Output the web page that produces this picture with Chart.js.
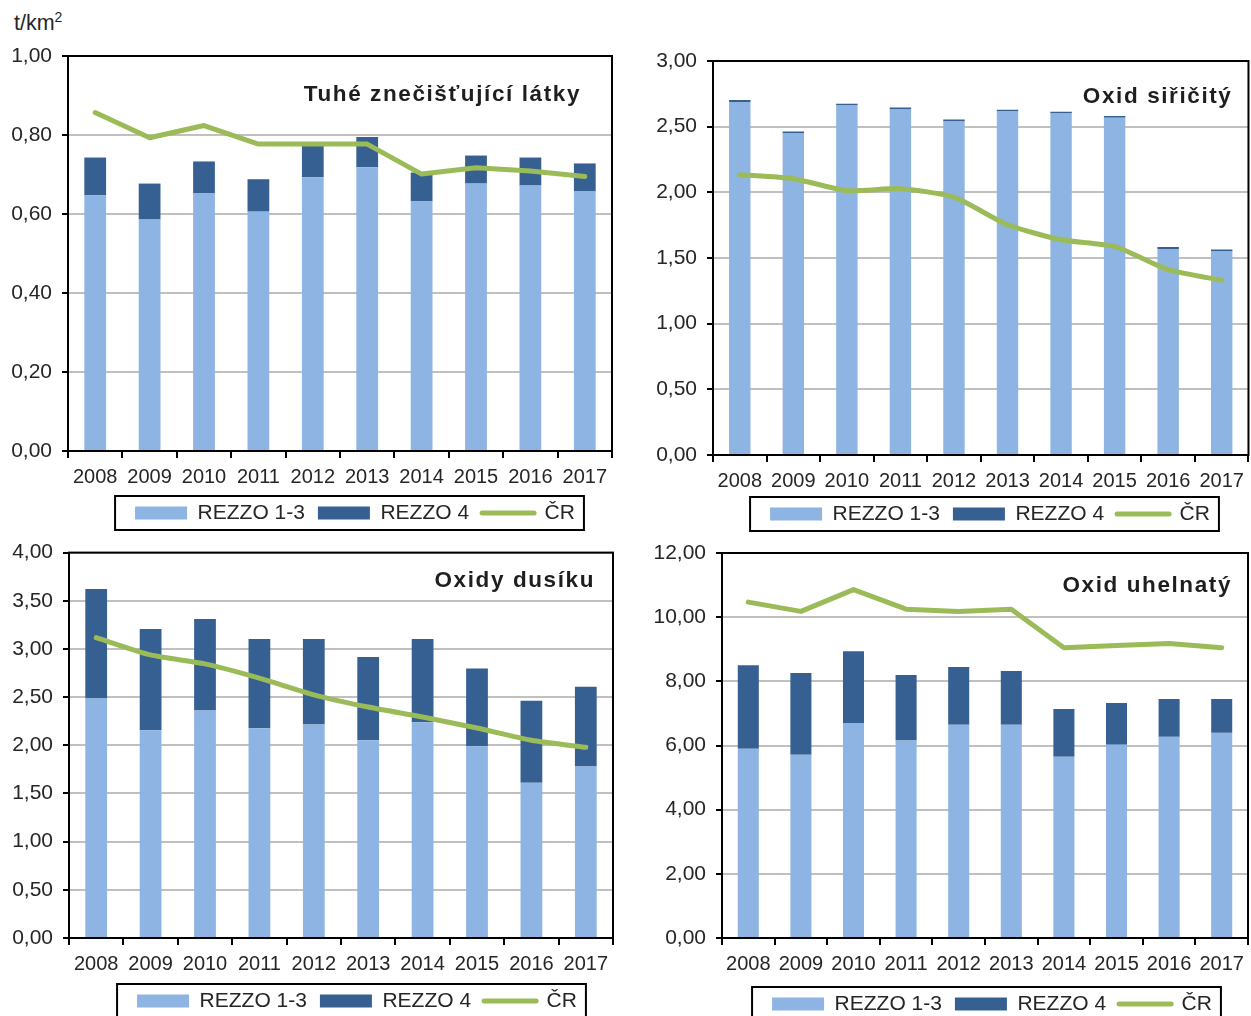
<!DOCTYPE html>
<html lang="cs">
<head>
<meta charset="utf-8">
<script src="https://cdn.jsdelivr.net/npm/chart.js@4.4.0/dist/chart.umd.min.js"></script>
<style>
  html, body { margin: 0; padding: 0; background: #fff; overflow: hidden; }
  #page { position: relative; width: 1251px; height: 1016px; overflow: hidden; font-family: "Liberation Sans", Arial, sans-serif; color: #262626; }
  .box { position: absolute; }
  #unit { position: absolute; left: 14px; top: 13px; font-size: 21.5px; line-height: 21px; }
  #unit sup { font-size: 14px; line-height: 0; }
</style>
</head>
<body>
<div id="page">
  <div id="unit">t/km<sup>2</sup></div>
  <div class="box" style="left:0;top:30px;width:640px;height:505px"><canvas id="c1"></canvas></div>
  <div class="box" style="left:640px;top:30px;width:611px;height:509px"><canvas id="c2"></canvas></div>
  <div class="box" style="left:0;top:530px;width:640px;height:486px"><canvas id="c3"></canvas></div>
  <div class="box" style="left:640px;top:530px;width:611px;height:486px"><canvas id="c4"></canvas></div>
</div>
<script>
const years = ['2008', '2009', '2010', '2011', '2012', '2013', '2014', '2015', '2016', '2017'];
const seriesNames = ['REZZO 1-3', 'REZZO 4', 'ČR'];

// Tuhé znečišťující látky
const tzlRezzo13 = [0.647, 0.586, 0.652, 0.606, 0.693, 0.718, 0.632, 0.677, 0.672, 0.657];
const tzlRezzo4 = [0.096, 0.091, 0.081, 0.082, 0.083, 0.077, 0.073, 0.071, 0.071, 0.071];
const tzlCR = [0.857, 0.793, 0.824, 0.777, 0.777, 0.777, 0.701, 0.717, 0.709, 0.695];

// Oxid siřičitý
const so2Rezzo13 = [2.688, 2.448, 2.661, 2.630, 2.539, 2.615, 2.600, 2.567, 1.568, 1.550];
const so2Rezzo4 = [0.015, 0.015, 0.014, 0.015, 0.015, 0.014, 0.014, 0.015, 0.015, 0.014];
const so2CR = [2.134, 2.104, 2.013, 2.028, 1.963, 1.753, 1.639, 1.588, 1.411, 1.330];

// Oxidy dusíku
const noxRezzo13 = [2.486, 2.155, 2.362, 2.176, 2.217, 2.052, 2.238, 1.990, 1.611, 1.781];
const noxRezzo4 = [1.135, 1.052, 0.948, 0.927, 0.886, 0.865, 0.865, 0.807, 0.851, 0.826];
const noxCR = [3.117, 2.938, 2.845, 2.697, 2.524, 2.397, 2.293, 2.179, 2.052, 1.979];

// Oxid uhelnatý
const coRezzo13 = [5.898, 5.711, 6.705, 6.156, 6.643, 6.643, 5.649, 6.022, 6.270, 6.394];
const coRezzo4 = [2.607, 2.546, 2.235, 2.039, 1.800, 1.676, 1.490, 1.303, 1.180, 1.056];
const coCR = [10.47, 10.18, 10.86, 10.25, 10.18, 10.25, 9.05, 9.12, 9.18, 9.05];

const LIGHT = '#8db4e2', DARK = '#366092', GREEN = '#9bbb59', TEXT = '#262626';
const FONT = '"Liberation Sans", Arial, sans-serif';

// frame around the plot, title inside it, boxed legend moved to its place
const panelPlugin = {
  id: 'panel',
  afterLayout(chart, args, opts) {
    const lg = chart.legend;
    if (!lg || !lg.legendHitBoxes || !lg.legendHitBoxes.length) return;
    const dx = opts.legendX - (lg.left + lg.right) / 2;
    const itemH = lg.legendHitBoxes[0].height;
    const dy = opts.legendY - (lg.top + lg.options.labels.padding + itemH / 2);
    lg.left += dx; lg.right += dx;
    lg.top += dy; lg.bottom += dy;
  },
  afterDatasetsDraw(chart, args, opts) {
    const {ctx, chartArea: a} = chart;
    ctx.save();
    ctx.strokeStyle = '#000';
    ctx.lineWidth = 2;
    ctx.strokeRect(a.left, a.top, a.right - a.left, a.bottom - a.top);
    ctx.fillStyle = '#1e1e1e';
    ctx.font = 'bold 22.5px ' + FONT;
    ctx.letterSpacing = '1.6px';
    ctx.textAlign = 'right';
    ctx.textBaseline = 'alphabetic';
    ctx.fillText(opts.title, a.right - opts.titleInset, a.top + opts.titleBase);
    ctx.restore();
  },
  afterDraw(chart) {
    const hb = chart.legend && chart.legend.legendHitBoxes;
    if (!hb || !hb.length) return;
    const {ctx} = chart;
    const left = Math.min(...hb.map(h => h.left)) - 20;
    const right = Math.max(...hb.map(h => h.left + h.width)) + 9;
    const cy = hb[0].top + hb[0].height / 2;
    ctx.save();
    ctx.strokeStyle = '#000';
    ctx.lineWidth = 2;
    ctx.strokeRect(left, cy - 17, right - left, 34);
    ctx.restore();
  }
};

function makeChart(id, p) {
  const fmt = v => v.toFixed(2).replace('.', ',');
  return new Chart(document.getElementById(id), {
    data: {
      labels: years,
      datasets: [
        { type: 'bar', label: seriesNames[0], data: p.r13, backgroundColor: LIGHT, borderWidth: 0,
          barPercentage: 0.4, categoryPercentage: 1, stack: 'rezzo', order: 1 },
        { type: 'bar', label: seriesNames[1], data: p.r4, backgroundColor: DARK, borderWidth: 0,
          barPercentage: 0.4, categoryPercentage: 1, stack: 'rezzo', order: 1 },
        { type: 'line', label: seriesNames[2], data: p.cr, borderColor: GREEN, backgroundColor: GREEN,
          borderWidth: 5, borderCapStyle: 'round', borderJoinStyle: 'round', pointRadius: 0,
          tension: p.tension, stack: 'cr', order: 0 }
      ]
    },
    options: {
      responsive: true,
      maintainAspectRatio: false,
      animation: false,
      events: [],
      layout: { padding: { top: p.padTop, right: p.padRight, left: 0, bottom: p.padBottom } },
      scales: {
        x: {
          stacked: true,
          grid: { offset: true, drawOnChartArea: false, drawTicks: true, tickLength: 7, color: '#000', lineWidth: 2 },
          border: { color: '#000', width: 2 },
          ticks: { color: TEXT, font: { family: FONT, size: 20 }, padding: 7, maxRotation: 0, autoSkip: false },
          afterFit: s => { s.height = 34; }
        },
        y: {
          stacked: true,
          min: 0,
          max: p.max,
          grid: { color: '#c0c0c0', lineWidth: 2, tickColor: '#000', tickLength: 6, tickWidth: 2 },
          border: { color: '#000', width: 2 },
          ticks: { stepSize: p.step, color: TEXT, font: { family: FONT, size: 21 }, padding: 10, callback: fmt },
          afterFit: s => { s.width = p.yWidth; }
        }
      },
      plugins: {
        tooltip: { enabled: false },
        legend: {
          position: 'bottom',
          labels: {
            color: TEXT,
            font: { family: FONT, size: 21 },
            usePointStyle: true,
            pointStyleWidth: 52,
            boxHeight: 13,
            padding: 13,
            generateLabels: chart => chart.data.datasets.map((ds, i) => ({
              text: ds.label,
              datasetIndex: i,
              fillStyle: ds.type === 'line' ? 'rgba(0,0,0,0)' : ds.backgroundColor,
              strokeStyle: ds.type === 'line' ? ds.borderColor : ds.backgroundColor,
              lineWidth: ds.type === 'line' ? 5 : 0,
              lineCap: 'round',
              pointStyle: ds.type === 'line' ? 'line' : 'rect',
              fontColor: TEXT,
              hidden: false
            }))
          }
        },
        panel: { title: p.title, titleInset: p.titleInset, titleBase: p.titleBase, legendX: p.legendX, legendY: p.legendY }
      }
    },
    plugins: [panelPlugin]
  });
}

makeChart('c1', { title: 'Tuhé znečišťující látky', r13: tzlRezzo13, r4: tzlRezzo4, cr: tzlCR, max: 1, step: 0.2, tension: 0,
  padTop: 26, padRight: 28, padBottom: 6, yWidth: 68, legendX: 355, legendY: 483, titleInset: 31, titleBase: 45 });
makeChart('c2', { title: 'Oxid siřičitý', r13: so2Rezzo13, r4: so2Rezzo4, cr: so2CR, max: 3, step: 0.5, tension: 0.2,
  padTop: 31, padRight: 1, padBottom: 6, yWidth: 73, legendX: 350, legendY: 484, titleInset: 16, titleBase: 42 });
makeChart('c3', { title: 'Oxidy dusíku', r13: noxRezzo13, r4: noxRezzo4, cr: noxCR, max: 4, step: 0.5, tension: 0.2,
  padTop: 21, padRight: 27, padBottom: 0, yWidth: 69, legendX: 357, legendY: 471, titleInset: 18, titleBase: 34 });
makeChart('c4', { title: 'Oxid uhelnatý', r13: coRezzo13, r4: coRezzo4, cr: coCR, max: 12, step: 2, tension: 0,
  padTop: 23, padRight: 1, padBottom: 0, yWidth: 82, legendX: 352, legendY: 474, titleInset: 16, titleBase: 39 });
</script>
</body>
</html>
